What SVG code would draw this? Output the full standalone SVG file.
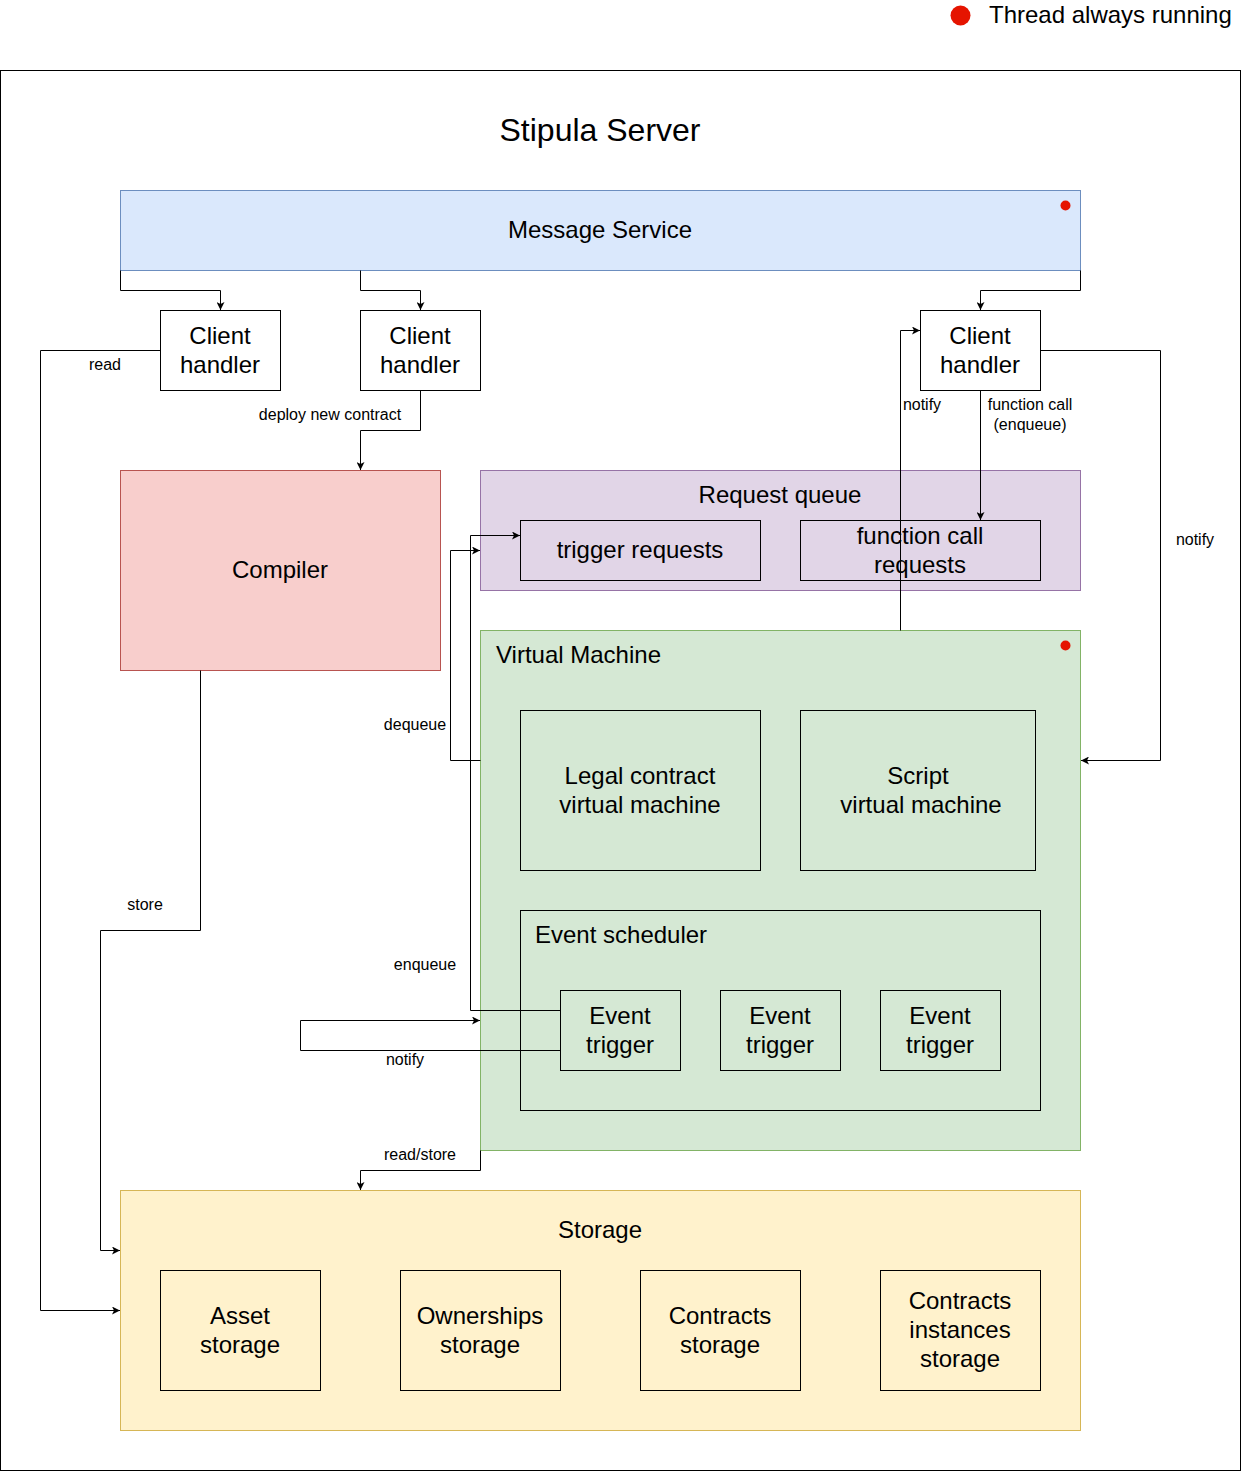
<svg xmlns="http://www.w3.org/2000/svg" width="1241" height="1471" viewBox="0 0 1241 1471">
<style>
text{font-family:"Liberation Sans",Arial,sans-serif;fill:#000}
.t{font-size:24px;text-anchor:middle}
.tl{font-size:24px}
.s{font-size:16px;text-anchor:middle}
.box{fill:none;stroke:#000;stroke-width:1}
.e{fill:none;stroke:#000;stroke-width:1}
.dot{fill:#e51400}
</style>
<defs>
<marker id="a" viewBox="0 0 10 10" refX="10" refY="5" markerWidth="8" markerHeight="8" markerUnits="userSpaceOnUse" orient="auto">
<path d="M0,0 L10,5 L0,10 L2.5,5 Z" fill="#000"/>
</marker>
</defs>
<rect width="1241" height="1471" fill="#fff"/>
<g id="legend">
<circle class="dot" cx="960.5" cy="15.5" r="10"/>
<text x="989" y="23" font-size="24">Thread always running</text>
</g>
<g id="server">
<rect x="0.5" y="70.5" width="1240" height="1400" class="box"/>
<text x="600" y="141" font-size="32" text-anchor="middle">Stipula Server</text>
</g>
<g id="message-service">
<rect x="120.5" y="190.5" width="960" height="80" fill="#dae8fc" stroke="#6c8ebf"/>
<text class="t" x="600" y="238">Message Service</text>
<circle class="dot" cx="1065.5" cy="205.5" r="5"/>
</g>
<g id="client-handler-1">
<rect x="160.5" y="310.5" width="120" height="80" fill="#fff" stroke="#000"/>
<text class="t" x="220" y="344">Client</text>
<text class="t" x="220" y="373">handler</text>
</g>
<g id="client-handler-2">
<rect x="360.5" y="310.5" width="120" height="80" fill="#fff" stroke="#000"/>
<text class="t" x="420" y="344">Client</text>
<text class="t" x="420" y="373">handler</text>
</g>
<g id="client-handler-3">
<rect x="920.5" y="310.5" width="120" height="80" fill="#fff" stroke="#000"/>
<text class="t" x="980" y="344">Client</text>
<text class="t" x="980" y="373">handler</text>
</g>
<g id="compiler">
<rect x="120.5" y="470.5" width="320" height="200" fill="#f8cecc" stroke="#b85450"/>
<text class="t" x="280" y="578">Compiler</text>
</g>
<g id="request-queue">
<rect x="480.5" y="470.5" width="600" height="120" fill="#e1d5e7" stroke="#9673a6"/>
<text class="t" x="780" y="503">Request queue</text>
</g>
<g id="trigger-requests">
<rect x="520.5" y="520.5" width="240" height="60" fill="none" stroke="#000"/>
<text class="t" x="640" y="558">trigger requests</text>
</g>
<g id="virtual-machine">
<rect x="480.5" y="630.5" width="600" height="520" fill="#d5e8d4" stroke="#82b366"/>
<text class="tl" x="496" y="663">Virtual Machine</text>
<circle class="dot" cx="1065.5" cy="645.5" r="5"/>
</g>
<g id="legal-vm">
<rect x="520.5" y="710.5" width="240" height="160" class="box"/>
<text class="t" x="640" y="784">Legal contract</text>
<text class="t" x="640" y="813">virtual machine</text>
</g>
<g id="script-vm">
<rect x="800.5" y="710.5" width="235" height="160" class="box"/>
<text class="t" x="918" y="784">Script</text>
<text class="t" x="921" y="813">virtual machine</text>
</g>
<g id="event-scheduler">
<rect x="520.5" y="910.5" width="520" height="200" class="box"/>
<text class="tl" x="535" y="943">Event scheduler</text>
</g>
<g id="event-trigger-1">
<rect x="560.5" y="990.5" width="120" height="80" class="box"/>
<text class="t" x="620" y="1024">Event</text>
<text class="t" x="620" y="1053">trigger</text>
</g>
<g id="event-trigger-2">
<rect x="720.5" y="990.5" width="120" height="80" class="box"/>
<text class="t" x="780" y="1024">Event</text>
<text class="t" x="780" y="1053">trigger</text>
</g>
<g id="event-trigger-3">
<rect x="880.5" y="990.5" width="120" height="80" class="box"/>
<text class="t" x="940" y="1024">Event</text>
<text class="t" x="940" y="1053">trigger</text>
</g>
<g id="storage">
<rect x="120.5" y="1190.5" width="960" height="240" fill="#fff2cc" stroke="#d6b656"/>
<text class="t" x="600" y="1238">Storage</text>
</g>
<g id="asset-storage">
<rect x="160.5" y="1270.5" width="160" height="120" class="box"/>
<text class="t" x="240" y="1324">Asset</text>
<text class="t" x="240" y="1353">storage</text>
</g>
<g id="ownerships-storage">
<rect x="400.5" y="1270.5" width="160" height="120" class="box"/>
<text class="t" x="480" y="1324">Ownerships</text>
<text class="t" x="480" y="1353">storage</text>
</g>
<g id="contracts-storage">
<rect x="640.5" y="1270.5" width="160" height="120" class="box"/>
<text class="t" x="720" y="1324">Contracts</text>
<text class="t" x="720" y="1353">storage</text>
</g>
<g id="contracts-instances-storage">
<rect x="880.5" y="1270.5" width="160" height="120" class="box"/>
<text class="t" x="960" y="1309">Contracts</text>
<text class="t" x="960" y="1338">instances</text>
<text class="t" x="960" y="1367">storage</text>
</g>
<g id="connectors">
<path class="e" d="M120.5,270.5 V290.5 H220.5 V310" marker-end="url(#a)"/>
<path class="e" d="M360.5,270.5 V290.5 H420.5 V310" marker-end="url(#a)"/>
<path class="e" d="M1080.5,270.5 V290.5 H980.5 V310" marker-end="url(#a)"/>
<path class="e" d="M160.5,350.5 H40.5 V1310.5 H120" marker-end="url(#a)"/>
<text class="s" x="105" y="370">read</text>
<path class="e" d="M420.5,390.5 V430.5 H360.5 V470" marker-end="url(#a)"/>
<text class="s" x="330" y="420">deploy new contract</text>
<path class="e" d="M200.5,670.5 V930.5 H100.5 V1250.5 H120" marker-end="url(#a)"/>
<text class="s" x="145" y="910">store</text>
<path class="e" d="M980.5,390.5 V520" marker-end="url(#a)"/>
<text class="s" x="1030" y="410">function call</text>
<text class="s" x="1030" y="430">(enqueue)</text>
<path class="e" d="M900.5,630.5 V330.5 H920" marker-end="url(#a)"/>
<text class="s" x="922" y="410">notify</text>
<path class="e" d="M1040.5,350.5 H1160.5 V760.5 H1081" marker-end="url(#a)"/>
<text class="s" x="1195" y="545">notify</text>
<path class="e" d="M480.5,760.5 H450.5 V550.5 H480" marker-end="url(#a)"/>
<text class="s" x="415" y="730">dequeue</text>
<path class="e" d="M560.5,1010.5 H470.5 V535.5 H520" marker-end="url(#a)"/>
<text class="s" x="425" y="970">enqueue</text>
<path class="e" d="M560.5,1050.5 H300.5 V1020.5 H480" marker-end="url(#a)"/>
<text class="s" x="405" y="1065">notify</text>
<path class="e" d="M480.5,1150.5 V1170.5 H360.5 V1190" marker-end="url(#a)"/>
<text class="s" x="420" y="1160">read/store</text>
</g>
<g id="function-call-requests">
<rect x="800.5" y="520.5" width="240" height="60" fill="none" stroke="#000"/>
<text class="t" x="920" y="544">function call</text>
<text class="t" x="920" y="573">requests</text>
</g>
</svg>
